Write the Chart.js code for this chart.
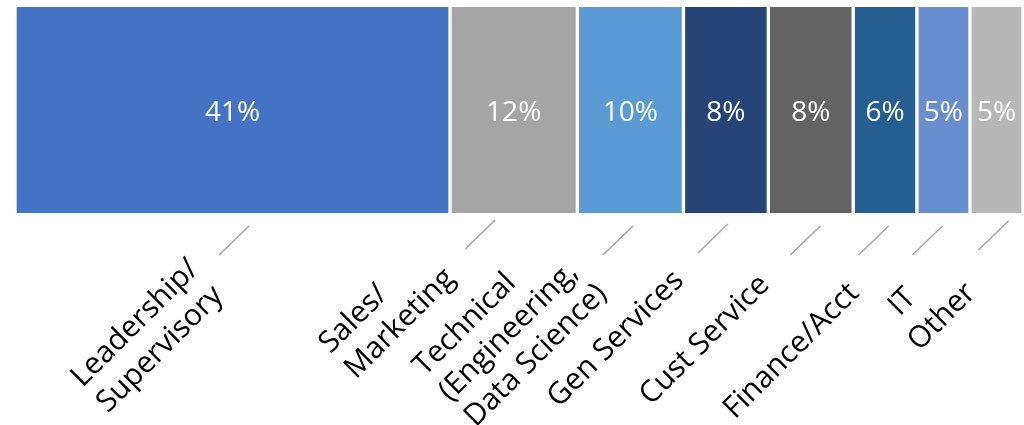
<!DOCTYPE html>
<html>
<head>
<meta charset="utf-8">
<script src="https://cdn.jsdelivr.net/npm/chart.js@4"></script>
<style>
  body { margin: 0; background: #fff; }
</style>
</head>
<body>
<canvas id="mix" width="1024" height="425"></canvas>
<script>
// categories + shares (%), left to right
var categories = [
    ['Leadership/', 'Supervisory'],
    ['Sales/', 'Marketing'],
    ['Technical', '(Engineering,', 'Data Science)'],
    ['Gen Services'],
    ['Cust Service'],
    ['Finance/Acct'],
    ['IT'],
    ['Other']
];
var shares = [41, 12, 10, 8, 8, 6, 5, 5];
var colors = ['#4472C4', '#A5A5A5', '#5B9BD5', '#264478', '#636363', '#255E91', '#698ED0', '#B7B7B7'];

// hand placement of the rotated labels and leader lines (px, relative to segment centre / bar bottom)
var lineNudge = [[1.5, 13], [-33.5, 7], [-12.5, 13], [-13, 11], [-5.5, 13], [-11.5, 13], [-16, 13], [-3, 8]];
var labelNudge = [[-84.5, 123], [-126.5, 98], [-120, 117], [-110, 126], [-106, 127], [-93.5, 138], [-41, 89], [-54.5, 104]];

var total = shares.reduce(function(a, b) { return a + b; }, 0);
var FONT = '"Open Sans", sans-serif';

var labelPlugin = {
    id: 'labels',
    afterDatasetsDraw: function(chart) {
        var c = chart.ctx;
        var bottom = chart.chartArea.bottom;
        c.save();
        chart.data.datasets.forEach(function(ds, i) {
            var bar = chart.getDatasetMeta(i).data[0];
            var p = bar.getProps(['x', 'base', 'y']);
            var cx = (p.x + p.base) / 2;

            // value inside the segment
            c.fillStyle = '#fff';
            c.font = '28px ' + FONT;
            c.textAlign = 'center';
            c.textBaseline = 'middle';
            c.fillText(ds.data[0] + '%', cx, p.y + 3);

            // leader line
            var lx = cx + lineNudge[i][0], ly = bottom + lineNudge[i][1];
            c.strokeStyle = '#A6A6A6';
            c.lineWidth = 1.5;
            c.beginPath();
            c.moveTo(lx - 15, ly + 29);
            c.lineTo(lx + 15, ly);
            c.stroke();

            // rotated category label
            var lines = categories[i];
            var lh = 36;
            c.font = '30px ' + FONT;
            var w = Math.max.apply(null, lines.map(function(t) { return c.measureText(t).width; }));
            var h = lines.length * lh;
            c.save();
            c.translate(cx + labelNudge[i][0], bottom + labelNudge[i][1]);
            c.rotate(-Math.PI / 4);
            c.fillStyle = '#000';
            c.textAlign = 'left';
            c.textBaseline = 'middle';
            lines.forEach(function(t, k) {
                c.fillText(t, -w / 2, -h / 2 + lh * (k + 0.5));
            });
            c.restore();
        });
        c.restore();
    }
};

var chart = new Chart(document.getElementById('mix').getContext('2d'), {
    type: 'bar',
    data: {
        labels: [''],
        datasets: shares.map(function(v, i) {
            return {
                label: categories[i].join(' '),
                data: [v],
                backgroundColor: colors[i],
                borderColor: '#fff',
                borderWidth: { left: 2, right: 2, top: 0, bottom: 0 },
                borderSkipped: false,
                categoryPercentage: 1,
                barPercentage: 1
            };
        })
    },
    options: {
        indexAxis: 'y',
        responsive: false,
        animation: false,
        layout: { padding: { left: 15, right: 1, top: 7, bottom: 212 } },
        plugins: {
            legend: { display: false },
            tooltip: { enabled: false }
        },
        scales: {
            x: { stacked: true, min: 0, max: total, display: false },
            y: { stacked: true, display: false }
        }
    },
    plugins: [labelPlugin]
});
</script>
</body>
</html>
